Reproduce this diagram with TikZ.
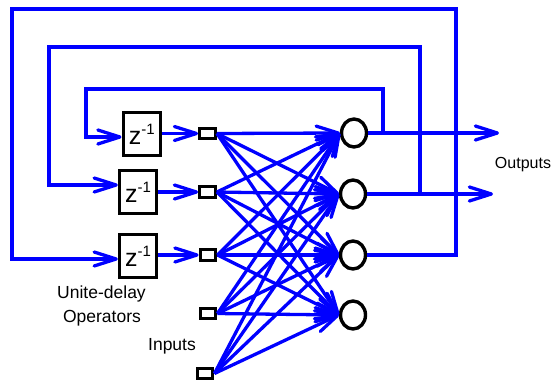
\documentclass[tikz,border=0pt]{standalone}
\usepackage{fontspec}
\setmainfont{Liberation Sans}
\usetikzlibrary{arrows.meta,shapes.geometric}
\definecolor{lineblue}{RGB}{0,0,255}
\tikzset{
  flow/.style={draw=lineblue, line width=3.3pt, line join=miter},
  arr/.style={flow, -{Straight Barb[length=22pt,width=14pt,round]}},
  delaybox/.style={draw=black, fill=white, line width=3.4pt, rectangle,
    minimum width=37pt, minimum height=43pt, inner sep=0pt},
  inbox/.style={draw=black, fill=white, line width=3.4pt, rectangle,
    minimum width=15.5pt, minimum height=10.5pt, inner sep=0pt},
  neuron/.style={draw=black, fill=white, line width=3.4pt, ellipse,
    minimum width=25pt, minimum height=28pt, inner sep=0pt},
  lbl/.style={inner sep=0pt, anchor=base, font=\fontsize{17.5}{17.5}\selectfont},
}
\newcommand{\zinv}{\fontsize{25}{25}\selectfont z\raisebox{10pt}{\fontsize{15}{15}\selectfont -1}}
\begin{document}
\begin{tikzpicture}[x=1pt,y=-1pt]
\useasboundingbox (0,0) rectangle (552,383);
% delay operators
\node[delaybox] (z1) at (141.7,134) {\zinv};
\node[delaybox] (z2) at (138,192) {\zinv};
\node[delaybox] (z3) at (138,256) {\zinv};
% input squares
\node[inbox] (s1) at (207.5,133.5) {};
\node[inbox] (s2) at (207.5,192) {};
\node[inbox] (s3) at (208,255) {};
\node[inbox] (s4) at (208,313.5) {};
\node[inbox] (s5) at (205,373.5) {};
% neurons
\node[neuron] (n1) at (354,133) {};
\node[neuron] (n2) at (353,194) {};
\node[neuron] (n3) at (353,255) {};
\node[neuron] (n4) at (353,315) {};
% labels
\node[lbl] (l1) at (101.5,298) {Unite-delay};
\node[lbl] (l2) at (102,322) {Operators};
\node[lbl] (l3) at (172,350) {Inputs};
\node[lbl, font=\fontsize{16}{16}\selectfont] (l4) at (523,168) {Outputs};
% fully connected layer
\foreach \i in {1,...,5}{
  \foreach \j in {1,...,4}{
    \draw[arr] (s\i.east) -- (n\j.west);
  }
}
% delay -> input
\draw[arr] (s1.west -| z1.east) -- (s1.west);
\draw[arr] (s2.west -| z2.east) -- (s2.west);
\draw[arr] (s3.west -| z3.east) -- (s3.west);
% outputs
\coordinate (o1) at (499,133);
\coordinate (o2) at (493,194);
\draw[arr] (n1.east) -- (o1);
\draw[arr] (n2.east) -- (o2);
% inner feedback loop
\coordinate (t1) at (383,133);
\coordinate (u1) at (383,89);
\coordinate (v1) at (86,89);
\coordinate (w1) at ([yshift=-3pt]z1.west);
\draw[arr] (t1) -- (u1) -- (v1) |- (w1);
% middle feedback loop
\coordinate (t2) at (420,194);
\coordinate (u2) at (420,47);
\coordinate (v2) at (49,47);
\coordinate (w2) at ([yshift=7pt]z2.west);
\draw[arr] (t2) -- (u2) -- (v2) |- (w2);
% outer feedback loop
\coordinate (t3) at (456,255);
\coordinate (u3) at (456,9);
\coordinate (v3) at (12,9);
\coordinate (w3) at ([yshift=-3pt]z3.west);
\draw[arr] (n3.east) -- (t3) -- (u3) -- (v3) |- (w3);
\end{tikzpicture}
\end{document}
